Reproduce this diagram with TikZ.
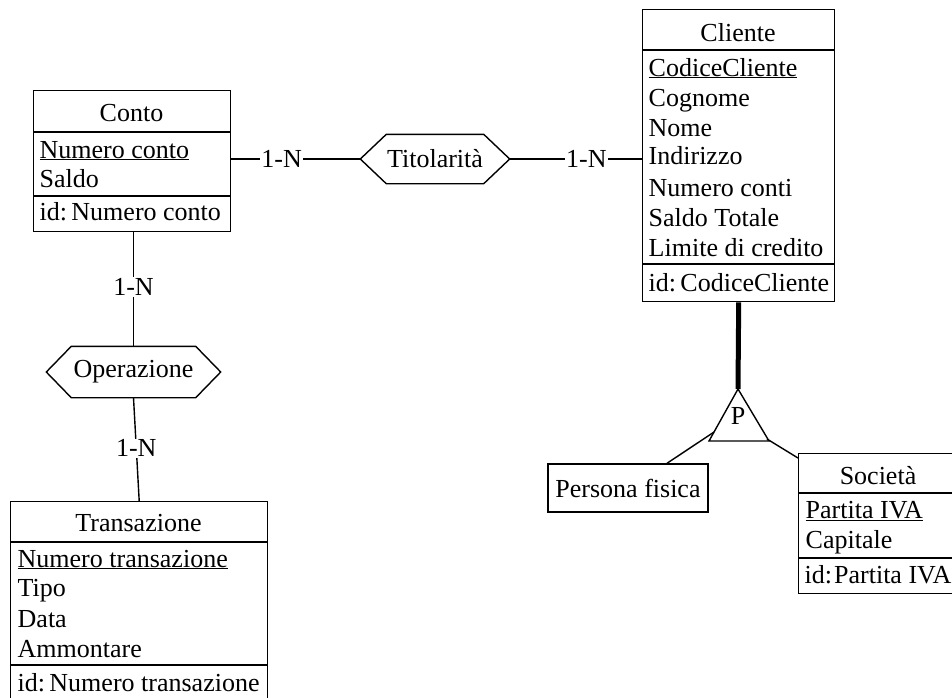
\documentclass[tikz,border=0pt]{standalone}
\usepackage{fontspec}
\setmainfont{Liberation Serif}
\begin{document}
\begin{tikzpicture}[x=1pt,y=-1pt, line width=1.4pt,
  every node/.style={font=\fontsize{26}{30}\selectfont},
  box/.style={draw, inner sep=0, anchor=north west},
  txt/.style={anchor=base west, inner sep=0},
  ttl/.style={anchor=base, inner sep=0},
  hexn/.style={inner sep=0},
  lbl/.style={fill=white, inner sep=1pt},
  isaline/.style={line width=1.4pt},
  thick isa/.style={line width=5pt}]
\useasboundingbox (0,0) rectangle (952,697);
\newcommand{\hexdraw}[2]{\draw (#1.west) -- ([xshift=#2]#1.north west) -- ([xshift=-#2]#1.north east) -- (#1.east) -- ([xshift=-#2]#1.south east) -- ([xshift=#2]#1.south west) -- cycle;}

% Conto
\node[box, minimum width=197, minimum height=141] (conto) at (33,90) {};
\draw (33,132) -- (230,132);
\draw (33,196) -- (230,196);
\node[ttl] (contoT) at (131.5,121) {Conto};
\node[txt] (contoA1) at (39,158) {\underline{Numero conto}};
\node[txt] (contoA2) at (39,187) {Saldo};
\node[txt] (contoI) at (39,220) {id:\,Numero conto};

% Cliente
\node[box, minimum width=192, minimum height=292] (cli) at (642,9) {};
\draw (642,50) -- (834,50);
\draw (642,264) -- (834,264);
\node[ttl] (cliT) at (738,41) {Cliente};
\node[txt] (cliA1) at (648,76) {\underline{CodiceCliente}};
\node[txt] (cliA2) at (648,106) {Cognome};
\node[txt] (cliA3) at (648,136) {Nome};
\node[txt] (cliA4) at (648,164) {Indirizzo};
\node[txt] (cliA5) at (648,196) {Numero conti};
\node[txt] (cliA6) at (648,226) {Saldo Totale};
\node[txt] (cliA7) at (648,256) {Limite di credito};
\node[txt] (cliI) at (648,291) {id:\,CodiceCliente};

% Transazione
\node[box, minimum width=257, minimum height=205] (tr) at (10,501) {};
\draw (10,542) -- (267,542);
\draw (10,665) -- (267,665);
\node[ttl] (trT) at (138.5,531) {Transazione};
\node[txt] (trA1) at (17,567) {\underline{Numero transazione}};
\node[txt] (trA2) at (17,596) {Tipo};
\node[txt] (trA3) at (17,627) {Data};
\node[txt] (trA4) at (17,657) {Ammontare};
\node[txt] (trI) at (17,691) {id:\,Numero transazione};

% Societa
\node[box, minimum width=162, minimum height=140] (soc) at (798,453) {};
\draw (798,493) -- (960,493);
\draw (798,558) -- (960,558);
\node[ttl] (socT) at (878,484) {Società};
\node[txt] (socA1) at (805,518) {\underline{Partita IVA}};
\node[txt] (socA2) at (805,548) {Capitale};
\node[txt] (socI) at (804,583) {id:\kern2pt Partita IVA};

% Persona fisica
\node[draw, inner sep=0, minimum width=160, minimum height=48] (pf) at (628,488) {};
\node[ttl] (pfT) at (628,497) {Persona fisica};

% Relationships
\node[hexn, minimum width=148, minimum height=48] (tit) at (435,159) {Titolarità};
\hexdraw{tit}{26pt}
\node[hexn, minimum width=173, minimum height=50] (op) at (133.5,372) {Operazione};
\hexdraw{op}{25pt}

\draw (tit.west -| conto.east) -- node[lbl, pos=0.39] {1-N} (tit.west);
\draw (tit.east) -- node[lbl, pos=0.58] {1-N} (tit.east -| cli.west);
\draw (op.north |- conto.south) -- node[lbl, pos=0.48] {1-N} (op.north);
\draw (op.south) -- node[lbl, pos=0.49] {1-N} (tr.north);

% ISA triangle
\coordinate (apex) at (738,389);
\coordinate (baseL) at (709,441);
\coordinate (baseR) at (769,441);
\draw (apex) -- (baseL) -- (baseR) -- cycle;
\node[inner sep=0] (isaP) at (738,416) {P};
\coordinate (isaL) at (714,432);
\coordinate (isaR) at (767,439);
\draw[thick isa] (cli.south) -- (apex);
\draw[isaline] ([xshift=39pt]pf.north) -- (isaL);
\draw[isaline] ([yshift=-5pt]soc.north west) -- (isaR);
\end{tikzpicture}
\end{document}
